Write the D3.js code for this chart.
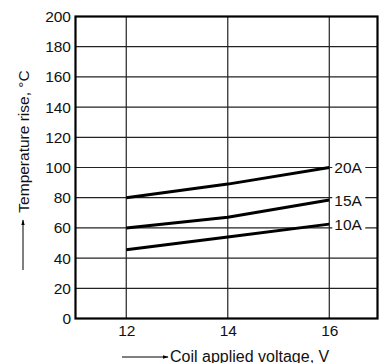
<!DOCTYPE html>
<html>
<head>
<meta charset="utf-8">
<script src="https://cdn.jsdelivr.net/npm/d3@7"></script>
<style>
  body { margin: 0; background: #fff; }
  text { font-family: "Liberation Sans", Arial, sans-serif; fill: #111; }
</style>
</head>
<body>
<div id="chart"></div>
<script>
const voltages = [12, 14, 16];
const xTicks = [12, 14, 16];
const yTicks = [0, 20, 40, 60, 80, 100, 120, 140, 160, 180, 200];
const seriesNames = ["20A", "15A", "10A"];
const rise20A = [80, 89, 100];
const rise15A = [60, 67, 78.5];
const rise10A = [45.5, 54, 62.5];

const width = 379, height = 363;
const margin = { left: 75.5, right: 1.5, top: 16.5, bottom: 44.5 };
const fs = 15.5;

const svg = d3.select("#chart").append("svg")
  .attr("width", width)
  .attr("height", height);

const x = d3.scaleLinear().domain([11, 16.95]).range([margin.left, width - margin.right]);
const y = d3.scaleLinear().domain([0, 200]).range([height - margin.bottom, margin.top]);

// grid
svg.append("g").selectAll("line").data(yTicks.slice(1, -1)).join("line")
  .attr("x1", x.range()[0]).attr("x2", x.range()[1])
  .attr("y1", d => y(d)).attr("y2", d => y(d))
  .attr("stroke", "#222").attr("stroke-width", 1.2);
svg.append("g").selectAll("line").data(xTicks).join("line")
  .attr("x1", d => x(d)).attr("x2", d => x(d))
  .attr("y1", y.range()[0]).attr("y2", y.range()[1])
  .attr("stroke", "#222").attr("stroke-width", 1.2);

// series
const series = [rise20A, rise15A, rise10A];
const line = d3.line().x((d, i) => x(voltages[i])).y(d => y(d));
svg.append("g").selectAll("path").data(series).join("path")
  .attr("d", line)
  .attr("fill", "none")
  .attr("stroke", "#000")
  .attr("stroke-width", 3);

// series labels, white box over the grid
const lab = svg.append("g").selectAll("g").data(series).join("g")
  .attr("transform", d => `translate(0,${y(d[d.length - 1])})`);
lab.append("rect")
  .attr("x", x(16) + 3).attr("y", -8).attr("width", 33).attr("height", 16)
  .attr("fill", "#fff");
lab.append("text")
  .attr("x", x(16) + 5).attr("dy", "0.36em")
  .attr("font-size", fs)
  .text((d, i) => seriesNames[i]);

// frame
svg.append("rect")
  .attr("x", x.range()[0]).attr("y", y.range()[1])
  .attr("width", x.range()[1] - x.range()[0])
  .attr("height", y.range()[0] - y.range()[1])
  .attr("fill", "none").attr("stroke", "#000").attr("stroke-width", 2.2);

// axes
const yAxis = svg.append("g")
  .attr("transform", `translate(${margin.left},0)`)
  .call(d3.axisLeft(y).tickValues(yTicks).tickSize(0).tickPadding(4.5));
yAxis.select(".domain").remove();
yAxis.selectAll("text").attr("font-size", fs).attr("fill", "#111").attr("font-family", null);

const xAxis = svg.append("g")
  .attr("transform", `translate(0,${height - margin.bottom})`)
  .call(d3.axisBottom(x).tickValues(xTicks).tickFormat(d3.format("d")).tickSize(0).tickPadding(6.5));
xAxis.select(".domain").remove();
xAxis.selectAll("text").attr("font-size", fs).attr("fill", "#111").attr("font-family", null);
svg.selectAll(".tick text").style("font-family", "'Liberation Sans', Arial, sans-serif");

// axis titles with arrows
const defs = svg.append("defs");
defs.append("marker").attr("id", "arr")
  .attr("viewBox", "0 0 10 10").attr("refX", 9).attr("refY", 5)
  .attr("markerWidth", 6).attr("markerHeight", 6).attr("orient", "auto")
  .append("path").attr("d", "M0,2 L10,5 L0,8 Z").attr("fill", "#000");

svg.append("line")
  .attr("x1", 23).attr("x2", 23).attr("y1", 270).attr("y2", 220)
  .attr("stroke", "#000").attr("stroke-width", 1).attr("marker-end", "url(#arr)");
svg.append("text")
  .attr("transform", "translate(28.5,141.5) rotate(-90)")
  .attr("text-anchor", "middle")
  .attr("font-size", fs)
  .text("Temperature rise, °C");

svg.append("line")
  .attr("x1", 122).attr("x2", 168).attr("y1", 357).attr("y2", 357)
  .attr("stroke", "#000").attr("stroke-width", 1).attr("marker-end", "url(#arr)");
svg.append("text")
  .attr("x", 170).attr("y", 361.5)
  .attr("font-size", 16)
  .text("Coil applied voltage, V");
</script>
</body>
</html>
